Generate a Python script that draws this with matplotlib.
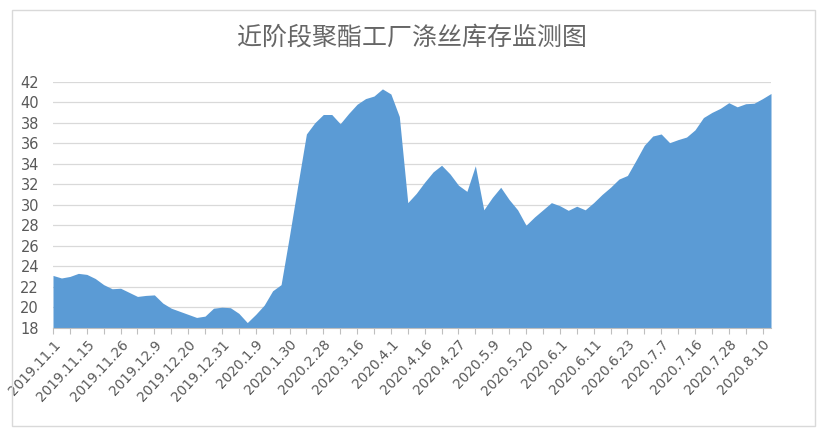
import matplotlib
matplotlib.use("Agg")
import matplotlib.pyplot as plt
from matplotlib.patches import Rectangle
import numpy as np

# inventory (days), one value per sampled date
inventory = [
    23.1, 22.85, 23.0, 23.3, 23.2, 22.8, 22.2, 21.8, 21.85, 21.45,
    21.05, 21.15, 21.2, 20.4, 19.9, 19.6, 19.3, 19.0, 19.13, 19.9,
    20.0, 19.95, 19.4, 18.5, 19.3, 20.2, 21.6, 22.2, 27.0, 32.0,
    36.9, 38.0, 38.8, 38.8, 37.9, 38.9, 39.8, 40.35, 40.6, 41.3,
    40.8, 38.6, 30.2, 31.1, 32.2, 33.2, 33.85, 33.0, 31.9, 31.3,
    33.8, 29.5, 30.7, 31.7, 30.5, 29.5, 28.0, 28.8, 29.5, 30.2,
    29.9, 29.45, 29.85, 29.5, 30.2, 31.0, 31.7, 32.5, 32.85, 34.3,
    35.8, 36.7, 36.9, 36.05, 36.35, 36.6, 37.3, 38.5, 39.0, 39.4,
    39.95, 39.55, 39.85, 39.9, 40.35, 40.85,
]

date_labels = [
    "2019.11.1", "2019.11.15", "2019.11.26", "2019.12.9", "2019.12.20",
    "2019.12.31", "2020.1.9", "2020.1.30", "2020.2.28", "2020.3.16",
    "2020.4.1", "2020.4.16", "2020.4.27", "2020.5.9", "2020.5.20",
    "2020.6.1", "2020.6.11", "2020.6.23", "2020.7.7", "2020.7.16",
    "2020.7.28", "2020.8.10",
]
label_step = 4

title = "近阶段聚酯工厂涤丝库存监测图"

W, H = 831, 438
fig = plt.figure(figsize=(W / 100, H / 100), dpi=100)
fig.patches.append(Rectangle((12 / W, 1 - 426 / H), (815 - 12) / W, (426 - 10) / H,
                             transform=fig.transFigure, fill=False,
                             edgecolor="#d9d9d9", linewidth=1))

ax = fig.add_axes([53 / W, 1 - 327.7 / H, (771 - 53) / W, (327.7 - 81.7) / H])

x = np.arange(len(inventory))
ax.fill_between(x, inventory, 18, color="#5b9bd5", linewidth=0, zorder=2)

ax.set_xlim(0, len(inventory) - 1)
ax.set_ylim(18, 42)
ax.set_yticks(np.arange(18, 43, 2))
ax.yaxis.grid(True, color="#d9d9d9", linewidth=0.9, zorder=0)
ax.set_axisbelow(True)

major = np.arange(0, len(inventory), label_step)
ax.set_xticks(major)
ax.set_xticklabels(date_labels, rotation=47, ha="right", rotation_mode="anchor",
                   fontsize=9.8, color="#595959")
ax.set_xticks(major[:-1] + label_step // 2, minor=True)
ax.tick_params(axis="x", which="both", direction="out", length=4, width=0.8,
               color="#bfbfbf", pad=3)
ax.tick_params(axis="y", length=0, labelsize=10.5, labelcolor="#595959", pad=10)

for side in ("top", "right", "left"):
    ax.spines[side].set_visible(False)
ax.spines["bottom"].set_color("#bfbfbf")
ax.spines["bottom"].set_zorder(3)

fig.text(412 / W, 1 - 38 / H, title, ha="center", va="center", fontsize=18,
         color="#666666", family=["Noto Sans CJK SC", "DejaVu Sans"])

fig.savefig("out.png", dpi=100)
